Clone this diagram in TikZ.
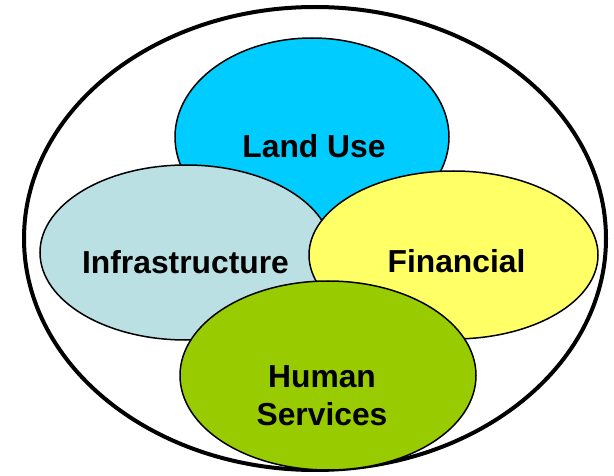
\documentclass[tikz,border=0pt]{standalone}
\usepackage{fontspec}
\setmainfont{Liberation Sans}
\usetikzlibrary{shapes.geometric}
\definecolor{landblue}{HTML}{00CCFF}
\definecolor{infragrey}{HTML}{BBE0E3}
\definecolor{finyellow}{HTML}{FFFF66}
\definecolor{humangreen}{HTML}{99CC00}
\begin{document}
\begin{tikzpicture}[x=1pt,y=-1pt,
        blob/.style={ellipse,draw,line width=1.5pt,inner sep=0pt},
        tag/.style={font=\fontsize{31.8}{38}\selectfont\bfseries,align=center,inner sep=0pt}]
        \useasboundingbox (0,0) rectangle (614,476);
        \node[blob,line width=4pt,minimum width=582pt,minimum height=463pt] at (315,238.5) (whole) {};

        \node[blob,fill=landblue,minimum width=274pt,minimum height=198pt] at (312,137) (land) {};
        \node[blob,fill=infragrey,minimum width=292pt,minimum height=175pt] at (186,252.5) (infra) {};
        \node[blob,fill=finyellow,minimum width=289pt,minimum height=168pt] at (453.5,255) (fin) {};
        \node[blob,fill=humangreen,minimum width=296pt,minimum height=189pt] at (328,375.5) (human) {};

        \node[tag] at ([xshift=2pt,yshift=-9pt]land.center) (landtext) {Land Use};
        \node[tag] at ([xshift=-0.5pt,yshift=-10pt]infra.center) (infratext) {Infrastructure};
        \node[tag] at ([xshift=3pt,yshift=-6pt]fin.center) (fintext) {Financial};
        \node[tag] at ([xshift=-6pt,yshift=-20.5pt]human.center) (humantext) {Human\\Services};
    \end{tikzpicture}
\end{document}
